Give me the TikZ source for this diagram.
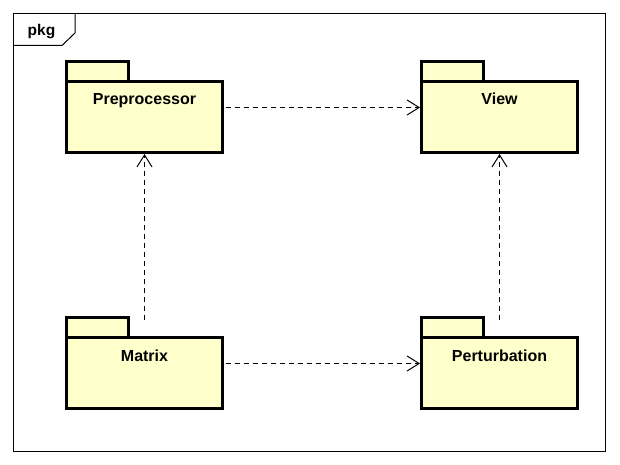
\documentclass[tikz,border=0pt]{standalone}
\usepackage{fontspec}
\setmainfont{Liberation Sans}
\usetikzlibrary{arrows.meta}
\definecolor{pkgfill}{HTML}{FFFFCC}
\tikzset{
  pkgbody/.style={draw, line width=3pt, fill=pkgfill, minimum width=156pt, minimum height=71pt, inner sep=0pt, outer sep=0pt},
  pkgtab/.style={draw, line width=3pt, fill=pkgfill, minimum width=62pt, minimum height=20pt, inner sep=0pt, outer sep=0pt},
  pkglabel/.style={anchor=base, font=\fontsize{16}{18}\selectfont\bfseries, inner sep=0pt},
  dep/.style={line width=1pt, dash pattern=on 5pt off 4pt, -{Straight Barb[length=12pt,width=15pt]}},
}
\begin{document}
\begin{tikzpicture}[x=1pt,y=-1pt]
\useasboundingbox (0,0) rectangle (620,465);
% frame
\draw[line width=1pt] (13.5,13.5) rectangle (605.5,451.5);
\draw[line width=1pt] (13.5,45.5) -- (62,45.5) -- (75,33) -- (75,13.5);
\node[anchor=base west, inner sep=0pt, font=\fontsize{15.5}{18}\selectfont\bfseries] (pkglbl) at (27.5,35.5) {pkg};
% packages
\node[pkgtab] (pretab) at (97.5,71.5) {};
\node[pkgbody] (pre) at (144.5,117) {};
\node[pkglabel] (preL) at ([yshift=-23.5pt]pre.north) {Preprocessor};

\node[pkgtab] (viewtab) at (452.5,71.5) {};
\node[pkgbody] (view) at (499.5,117) {};
\node[pkglabel] (viewL) at ([yshift=-23.5pt]view.north) {View};

\node[pkgtab] (mattab) at (97.5,327.5) {};
\node[pkgbody] (mat) at (144.5,373) {};
\node[pkglabel] (matL) at ([yshift=-23.5pt]mat.north) {Matrix};

\node[pkgtab] (pertab) at (452.5,327.5) {};
\node[pkgbody] (per) at (499.5,373) {};
\node[pkglabel] (perL) at ([yshift=-23.5pt]per.north) {Perturbation};

% dependencies
\draw[dep] ([xshift=3pt,yshift=9.5pt]pre.east) -- ([xshift=-1.5pt,yshift=9.5pt]view.west);
\draw[dep] ([xshift=3pt,yshift=9.5pt]mat.east) -- ([xshift=-1.5pt,yshift=9.5pt]per.west);
\draw[dep] ([yshift=18pt]mat.north) -- ([yshift=-1.5pt]pre.south);
\draw[dep] ([yshift=18pt]per.north) -- ([yshift=-1.5pt]view.south);
\end{tikzpicture}
\end{document}
